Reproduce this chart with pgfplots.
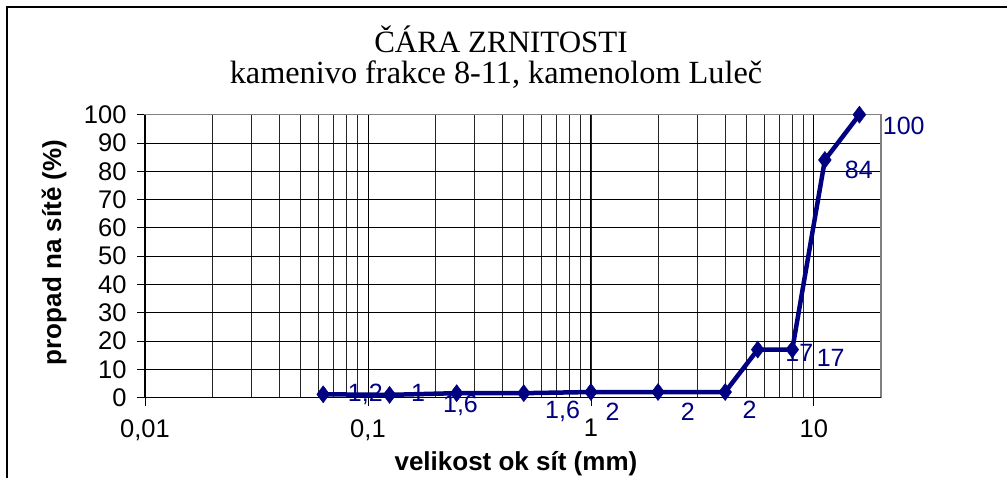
\documentclass[border=0pt]{standalone}
\usepackage{pgfplots}
\pgfplotsset{compat=1.18}
\usepackage{fontspec}
\setmainfont{Liberation Sans}
\newfontfamily\titlefont{Liberation Serif}
\definecolor{navy}{RGB}{0,0,128}
\begin{document}
\begin{tikzpicture}
\path[use as bounding box] (-145pt,-80.3pt) rectangle (862pt,397.7pt);
\begin{axis}[
  at={(0,0)}, anchor=south west,
  width=736pt, height=283pt, scale only axis,
  xmode=log, xmin=0.01, xmax=20, ymin=0, ymax=100,
  xtick={0.01,0.1,1,10}, xticklabels={{0,01},{0,1},1,10},
  ytick={0,10,...,100},
  grid=both,
  major grid style={black, line width=0.9pt},
  minor grid style={black!85, line width=0.8pt},
  axis line style={gray, line width=1.5pt},
  tick pos=left,
  tick align=outside, major tick length=8pt, minor tick length=0pt,
  tick style={black, line width=0.8pt},
  every tick label/.append style={font=\fontsize{25.5}{30}\selectfont},
  xticklabel style={yshift=-10pt},
  yticklabel style={xshift=-7pt},
  /pgf/number format/assume math mode=true,
  clip=false,
  xlabel={velikost ok sít (mm)},
  ylabel={propad na sítě (\%)},
  xlabel style={at={(rel axis cs:0.504,-0.2555)}, anchor=base,
    font=\bfseries\fontsize{26}{31}\selectfont},
  ylabel style={at={(rel axis cs:-0.1236,0.513)}, anchor=center,
    font=\bfseries\fontsize{26}{31}\selectfont},
]
% data labels (placed as in the original), drawn first so the line covers them
\addplot[draw=none, mark=none, nodes near coords, point meta=explicit symbolic,
  every node near coord/.style={text=navy, font=\fontsize{25}{29}\selectfont,
    inner sep=0pt, anchor=center}]
  table[meta=label] {
x y label
0.0973 1.0 1,2
0.168 1.7 1
0.26 -2.6 1,6
0.746 -5.0 1,6
1.25 -5.0 2
2.72 -5.0 2
5.15 -4.3 2
8.6 15.8 17
11.9 14.0 17
15.9 80.5 84
25.3 96.0 100
};
\addplot[navy, line width=4.5pt, mark=diamond*, mark size=8.5pt,
  mark options={solid, fill=navy, line width=0.5pt}] coordinates {
  (0.063,1.2) (0.125,1) (0.25,1.6) (0.5,1.6) (1,2) (2,2) (4,2)
  (5.6,17) (8,17) (11.2,84) (16,100)
};
\draw[black, line width=1.5pt] (rel axis cs:0,1) -- (rel axis cs:0,0) -- (rel axis cs:1,0);
\end{axis}
\node[anchor=base, font=\titlefont\fontsize{31}{36}\selectfont] at (356pt,344.7pt) {ČÁRA ZRNITOSTI};
\node[anchor=base, font=\titlefont\fontsize{32.3}{37}\selectfont] at (351pt,313.7pt) {kamenivo frakce 8-11, kamenolom Luleč};
\draw[line width=2pt] (-137.5pt,-80.3pt) -- (-137.5pt,390.2pt) -- (862pt,390.2pt);
\end{tikzpicture}
\end{document}
